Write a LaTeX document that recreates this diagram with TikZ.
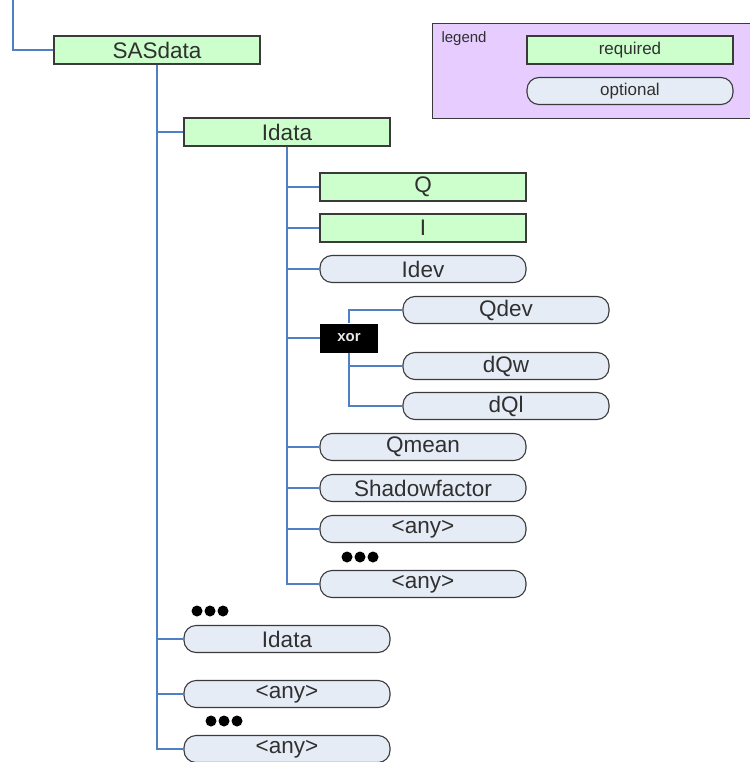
\documentclass[tikz,border=0pt]{standalone}
\usepackage{fontspec}
\setmainfont{Liberation Sans}
\begin{document}
\begin{tikzpicture}[x=1pt,y=-1pt,
  every node/.style={text=txt},
  req/.style={draw=boxline, line width=1.3pt, fill=reqfill, minimum width=206pt, minimum height=28pt, inner sep=0pt, font=\fontsize{22.5}{22.5}\selectfont},
  opt/.style={draw=boxline, line width=1.1pt, fill=optfill, rounded corners=12pt, minimum width=206pt, minimum height=27pt, inner sep=0pt, font=\fontsize{22.5}{22.5}\selectfont},
  leg/.style={font=\fontsize{17}{17}\selectfont},
  conn/.style={draw=connc, line width=1.4pt},
  xorbox/.style={fill=black, text=xortxt, minimum width=58pt, minimum height=29pt, inner sep=0pt, font=\bfseries\fontsize{15}{15}\selectfont},
  dotf/.style={fill=black}
]
\definecolor{txt}{HTML}{303030}
\definecolor{xortxt}{HTML}{E8E8E8}
\definecolor{boxline}{HTML}{3A3A3A}
\definecolor{reqfill}{HTML}{CCFFCC}
\definecolor{optfill}{HTML}{E6ECF6}
\definecolor{legfill}{HTML}{E6CCFF}
\definecolor{connc}{HTML}{4F7FC4}
\useasboundingbox (0,0) rectangle (749,762);

% legend
\node[draw=boxline, line width=1.2pt, fill=legfill, minimum width=320pt, minimum height=95pt, inner sep=0pt, anchor=north west] (legend) at (432,23) {};
\node[anchor=base west, font=\fontsize{15}{15}\selectfont] (legendtxt) at (438,43) {legend};
\node[req, leg] (lreq) at (630,50) {required};
\node[opt, leg] (lopt) at (630,91) {optional};

% tree
\coordinate (top) at (13,-2);
\node[req] (SASdata) at (157,50) {SASdata};
\node[req] (Idata) at (287,132) {Idata};
\node[req] (Q) at (423,187) {Q};
\node[req] (I) at (423,228) {I};
\node[opt] (Idev) at (423,269) {Idev};
\node[xorbox] (xor) at (349,338) {xor};
\node[opt] (Qdev) at (506,310) {Qdev};
\node[opt] (dQw) at (506,366) {dQw};
\node[opt] (dQl) at (506,406) {dQl};
\node[opt] (Qmean) at (423,447) {Qmean};
\node[opt] (Shadow) at (423,488) {Shadowfactor};
\node[opt] (any1) at (423,529) {<any>};
\node[opt] (any2) at (423,584) {<any>};
\node[opt] (Idata2) at (287,639) {Idata};
\node[opt] (any3) at (287,694) {<any>};
\node[opt] (any4) at (287,749) {<any>};

% connectors
\draw[conn] (top) |- (SASdata.west);
\foreach \c in {Idata,Idata2,any3,any4}
  \draw[conn] (SASdata.south) |- (\c.west);
\foreach \c in {Q,I,Idev,xor,Qmean,Shadow,any1,any2}
  \draw[conn] (Idata.south) |- (\c.west);
\draw[conn] (xor.north) |- (Qdev.west);
\foreach \c in {dQw,dQl}
  \draw[conn] (xor.south) |- (\c.west);

% ellipses (dots)
\foreach \x in {347,360,373} \fill[dotf] (\x,557) circle (5.5pt);
\foreach \x in {197,210,223} \fill[dotf] (\x,611) circle (5.5pt);
\foreach \x in {211,224,237} \fill[dotf] (\x,721) circle (5.5pt);
\end{tikzpicture}
\end{document}
